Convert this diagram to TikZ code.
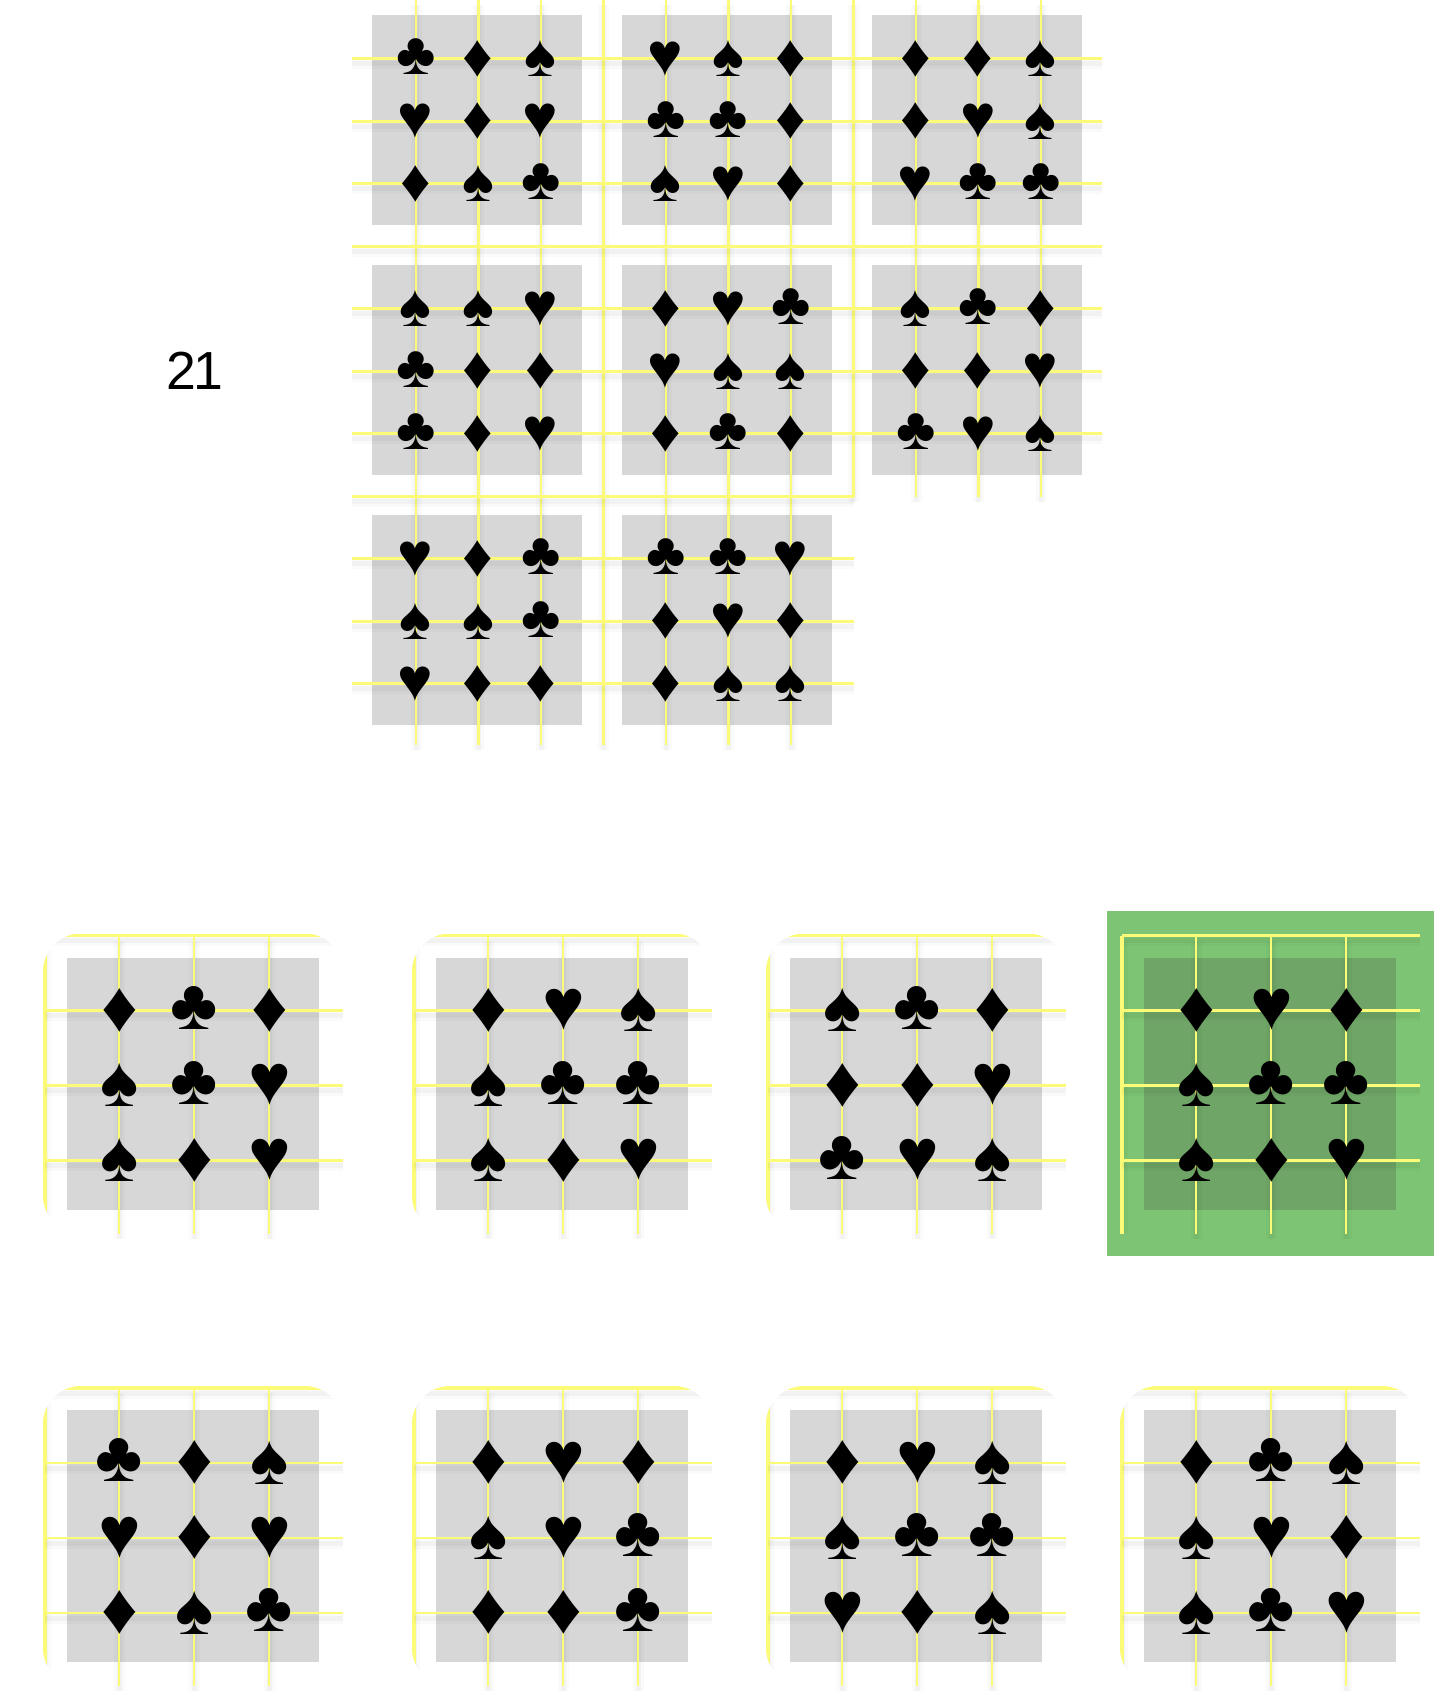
\documentclass[tikz,border=0pt]{standalone}
\usepackage{fontspec}
\setmainfont{Liberation Sans}
\newfontfamily\suitfont{Liberation Sans}
\usetikzlibrary{positioning}
\definecolor{ruleYellow}{HTML}{FBFB78}
\definecolor{tileGray}{HTML}{D7D7D7}
\definecolor{tileDark}{HTML}{6FA566}
\definecolor{pickGreen}{HTML}{7DC474}
\tikzset{
  base/.style={inner sep=0pt, outer sep=0pt, text=black},
  club nd/.style={base, yshift=1pt, node contents={♣},
    font=\suitfont\fontsize{30}{30}\selectfont},
  dia nd/.style={base, node contents={♦},
    font=\suitfont\fontsize{30}{30}\selectfont},
  spade nd/.style={base, node contents={♠},
    font=\suitfont\fontsize{30}{30}\selectfont},
  heart nd/.style={base, node contents={♥},
    font=\suitfont\fontsize{30}{30}\selectfont},
  rule/.style={
    draw=ruleYellow, line width=1.4pt,
    preaction={draw=black, opacity=.018, line width=5.5pt,
      transform canvas={yshift=-2.5pt}},
    preaction={draw=black, opacity=.03, line width=2.5pt,
      transform canvas={yshift=-2.5pt}}
  },
  edge rule/.style={rule, line width=1.9pt}
}
% nine suits of one tile, from the corner of its gray square
\newcommand{\suitset}[5]{
  \begin{scope}[shift={(#2,#3)}, scale=#4, transform shape]
    \foreach \su [count=\n from 0] in {#5} {
      \pgfmathtruncatemacro{\cc}{mod(\n,3)}
      \pgfmathtruncatemacro{\rr}{div(\n,3)}
      \node[\su\space nd, name=s#1-\n, at={(43.7+62.5*\cc,43.7+62.5*\rr)}];
    }
  \end{scope}
}
% answer tile: #1 id, #2 x, #3 y, #4 corner radius, #5 square colour, #6 suits
\newcommand{\answertile}[6]{
  \begin{scope}[shift={(#2,#3)}]
    \fill[#5] (22,22) rectangle (274,274);
    \begin{scope}
      \clip[rounded corners=#4] (-2,-2) rectangle (298,298);
      \draw[edge rule] (0,0) -- (298,0);
      \draw[edge rule] (0,0) -- (0,298);
    \end{scope}
    \foreach \p in {74,149,224} {
      \draw[rule] (\p,0) -- (\p,298);
    }
    \foreach \p in {75,150,225} {
      \draw[rule] (0,\p) -- (298,\p);
    }
  \end{scope}
  \pgfmathsetmacro{\gx}{#2+22}
  \pgfmathsetmacro{\gy}{#3+22}
  \suitset{#1}{\gx}{\gy}{1.2}{#6}
}

\begin{document}
\begin{tikzpicture}[x=0.5pt, y=-0.5pt]
  \useasboundingbox (0,0) rectangle (1454,1704);

  \node[base, font=\fontsize{26.8}{30}\selectfont\addfontfeature{LetterSpace=-4}] (score) at (195,371) {21};

  % upper board
  \foreach \gx/\gy in {372/15,622/15,872/15,372/265,622/265,872/265,372/515,622/515} {
    \fill[tileGray] (\gx,\gy) rectangle ++(210,210);
  }
  \foreach \p in {416,478.5,541,603.5,666,728.5,791} {
    \draw[rule] (\p,0) -- (\p,745);
  }
  \foreach \p in {853.5,916,978.5,1041} {
    \draw[rule] (\p,0) -- (\p,496.5);
  }
  \foreach \p in {58.7,121.2,183.7,246.2,308.7,371.2,433.7} {
    \draw[rule] (352,\p) -- (1102,\p);
  }
  \foreach \p in {496.2,558.7,621.2,683.7} {
    \draw[rule] (352,\p) -- (853.5,\p);
  }
  \suitset{a}{372}{15}{1}{club,dia,spade,heart,dia,heart,dia,spade,club}
  \suitset{b}{622}{15}{1}{heart,spade,dia,club,club,dia,spade,heart,dia}
  \suitset{c}{872}{15}{1}{dia,dia,spade,dia,heart,spade,heart,club,club}
  \suitset{d}{372}{265}{1}{spade,spade,heart,club,dia,dia,club,dia,heart}
  \suitset{e}{622}{265}{1}{dia,heart,club,heart,spade,spade,dia,club,dia}
  \suitset{f}{872}{265}{1}{spade,club,dia,dia,dia,heart,club,heart,spade}
  \suitset{g}{372}{515}{1}{heart,dia,club,spade,spade,club,heart,dia,dia}
  \suitset{h}{622}{515}{1}{club,club,heart,dia,heart,dia,dia,spade,spade}

  % answers
  \fill[pickGreen] (1107,911) rectangle (1434,1256);
  \answertile{p}{45}{935.5}{19pt}{tileGray}{dia,club,dia,spade,club,heart,spade,dia,heart}
  \answertile{q}{414}{935.5}{19pt}{tileGray}{dia,heart,spade,spade,club,club,spade,dia,heart}
  \answertile{r}{768}{935.5}{19pt}{tileGray}{spade,club,dia,dia,dia,heart,club,heart,spade}
  \answertile{u}{1122}{935.5}{0pt}{tileDark}{dia,heart,dia,spade,club,club,spade,dia,heart}
  \answertile{v}{45}{1388}{19pt}{tileGray}{club,dia,spade,heart,dia,heart,dia,spade,club}
  \answertile{w}{414}{1388}{19pt}{tileGray}{dia,heart,dia,spade,heart,club,dia,dia,club}
  \answertile{x}{768}{1388}{19pt}{tileGray}{dia,heart,spade,spade,club,club,heart,dia,spade}
  \answertile{y}{1122}{1388}{19pt}{tileGray}{dia,club,spade,spade,heart,dia,spade,club,heart}
\end{tikzpicture}
\end{document}
